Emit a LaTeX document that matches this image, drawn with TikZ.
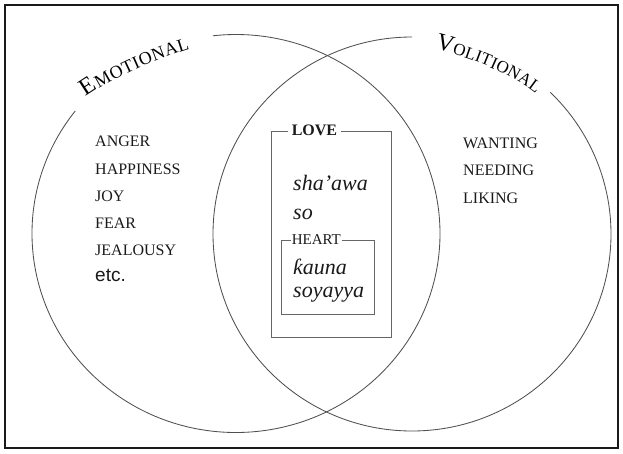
\documentclass[tikz,border=0pt]{standalone}
\usepackage{fontspec}
\setmainfont{Liberation Serif}
\newfontfamily\etcfont{Liberation Sans}
\usepackage{tikz}
\usetikzlibrary{positioning,decorations.text}
\definecolor{vennInk}{HTML}{1A1A1A}
\definecolor{vennLine}{HTML}{505050}
\definecolor{vennBox}{HTML}{666666}
\newcommand{\capE}{\fontsize{24}{27}\selectfont}
\newcommand{\capS}{\fontsize{18}{21}\selectfont}
\newcommand{\capT}{\fontsize{17}{20}\selectfont}
\tikzset{
  ring/.style      = {draw=vennLine, line width=0.85pt},
  outerframe/.style= {draw=vennInk, line width=1.6pt},
  catbox/.style    = {draw=vennBox, line width=0.9pt, inner sep=0pt},
  boxtag/.style    = {fill=white, inner ysep=0pt, text=vennInk, anchor=west},
  listitem/.style  = {anchor=base west, inner sep=0pt, text=vennInk,
                      font=\fontsize{16}{19}\selectfont},
  hausa/.style     = {anchor=base west, inner sep=0pt, text=vennInk,
                      font=\fontsize{22}{26}\selectfont\itshape},
  arctext/.style   = {decorate, decoration={text along path, text align={fit to path}}},
}

\begin{document}
\begin{tikzpicture}[x=1pt, y=1pt]
  \useasboundingbox (0,0) rectangle (623,453);
  \draw[outerframe] (5,5) rectangle (618,448);

  % the two sets, each left open where its name sits
  \coordinate (emo) at (236,219.5);
  \coordinate (vol) at (412,219);
  \draw[ring] ([shift={(142:204pt and 199pt)}]emo)
    arc[start angle=142, end angle=456.5, x radius=204pt, y radius=199pt];
  \draw[ring] ([shift={(90:199pt and 197pt)}]vol)
    arc[start angle=90, end angle=406, x radius=199pt, y radius=197pt];

  \path[arctext, decoration={text={|\capE|E|\capS|MOTIONAL}}]
    (86,356) .. controls (118,378) and (160,395) .. (190,404);
  \path[arctext, decoration={text={|\capE|V|\capT|OLITIONAL}}]
    (435,404) .. controls (471,395) and (508,381) .. (536,359);

  % emotional only
  \node[listitem] (anger) at (95,306) {ANGER};
  \node[listitem] (happiness) at ([yshift=-27.2pt]anger.base west) {HAPPINESS};
  \node[listitem] (joy) at ([yshift=-27.2pt]happiness.base west) {JOY};
  \node[listitem] (fear) at ([yshift=-27.2pt]joy.base west) {FEAR};
  \node[listitem] (jealousy) at ([yshift=-27.2pt]fear.base west) {JEALOUSY};
  \node[listitem, font=\etcfont\fontsize{19}{22}\selectfont] (etc)
    at ([yshift=-26pt]jealousy.base west) {etc.};

  % volitional only
  \node[listitem] (wanting) at (463,304) {WANTING};
  \node[listitem] (needing) at ([yshift=-27pt]wanting.base west) {NEEDING};
  \node[listitem] (liking) at ([yshift=-27pt]needing.base west) {LIKING};

  % overlap
  \node[catbox, minimum width=120pt, minimum height=206pt] (lovebox) at (331,219) {};
  \node[boxtag, inner xsep=4pt, font=\fontsize{16}{19}\selectfont\bfseries] (lovetag)
    at ([xshift=17pt]lovebox.north west) {LOVE};
  \node[hausa] (shaawa) at (293,262) {sha’awa};
  \node[hausa] (so) at ([yshift=-28pt]shaawa.base west) {so};

  \node[catbox, minimum width=93pt, minimum height=74pt] (heartbox) at (327.5,176) {};
  \node[boxtag, inner xsep=1pt, font=\fontsize{15}{18}\selectfont] (hearttag)
    at ([xshift=10pt]heartbox.north west) {HEART};
  \node[hausa] (kauna) at (293,179) {ƙauna};
  \node[hausa] (soyayya) at ([yshift=-23pt]kauna.base west) {soyayya};
\end{tikzpicture}
\end{document}
